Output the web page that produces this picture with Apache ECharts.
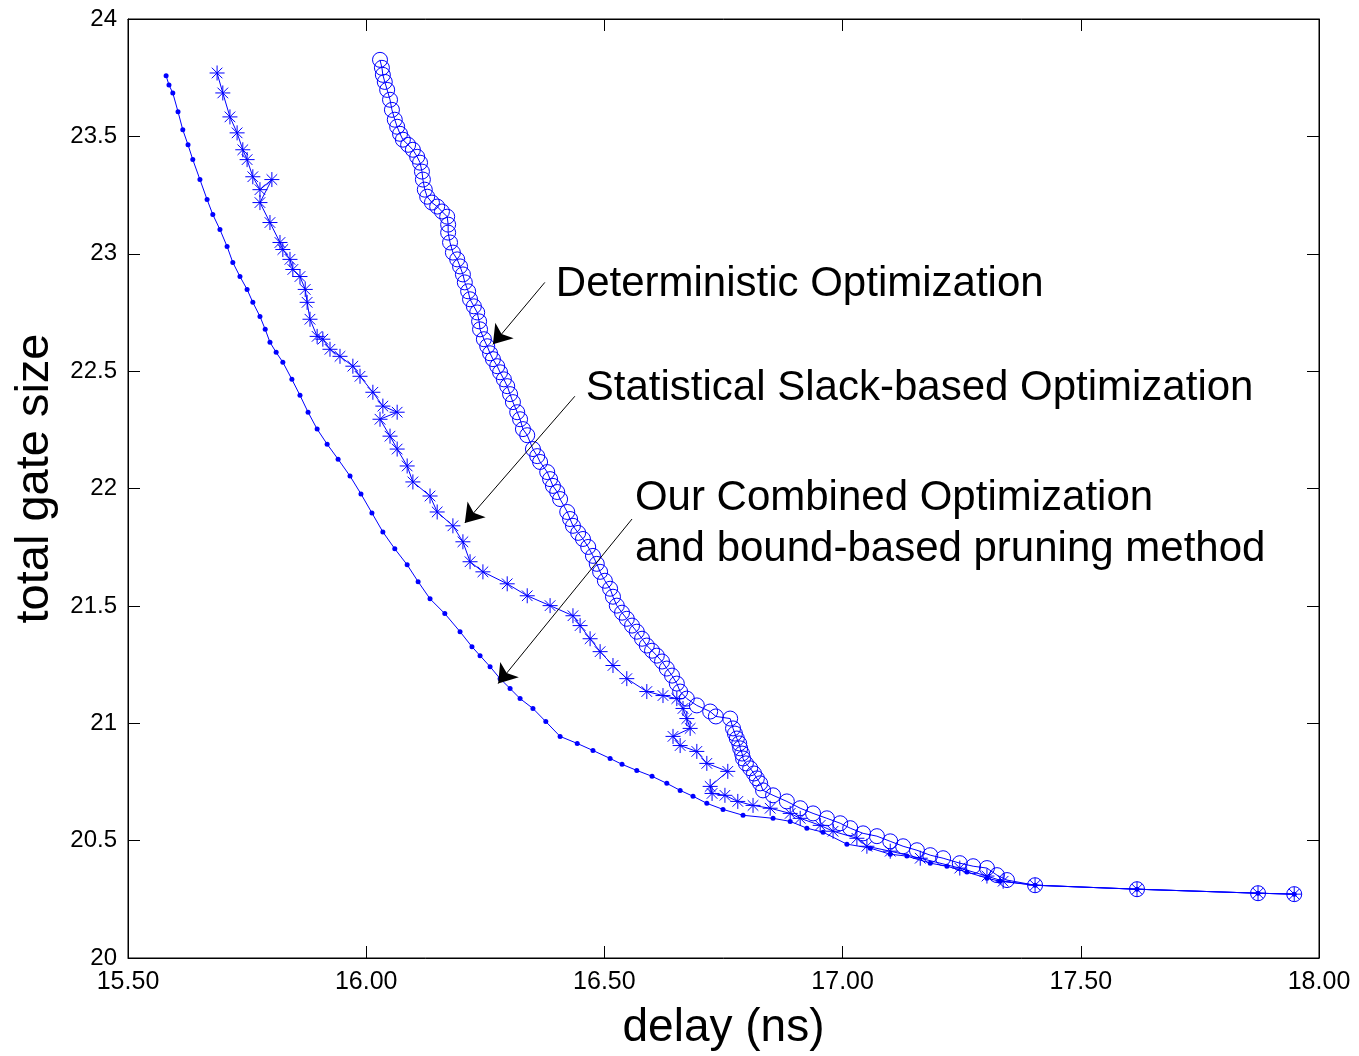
<!DOCTYPE html>
<html>
<head>
<meta charset="utf-8">
<title>delay vs total gate size</title>
<script src="https://cdn.jsdelivr.net/npm/echarts@6/dist/echarts.min.js"></script>
<style>
  html, body { margin: 0; padding: 0; background: #fff; }
  #main { width: 1359px; height: 1056px; }
</style>
</head>
<body>
<div id="main"></div>
<script>
// 三条曲线的数据 [delay(ns), total gate size]，从图上读出来的
const deterministic = [
  [16.029,23.826],[16.033,23.792],[16.035,23.762],[16.039,23.732],[16.044,23.698],[16.050,23.656],
  [16.054,23.613],[16.060,23.571],[16.065,23.541],[16.071,23.511],[16.077,23.486],[16.088,23.464],
  [16.098,23.443],[16.107,23.413],[16.113,23.388],[16.117,23.350],[16.119,23.316],[16.123,23.273],
  [16.128,23.243],[16.138,23.218],[16.149,23.201],[16.159,23.180],[16.170,23.158],[16.172,23.124],
  [16.172,23.090],[16.176,23.048],[16.182,23.005],[16.191,22.976],[16.197,22.946],[16.203,22.912],
  [16.207,22.878],[16.214,22.840],[16.218,22.806],[16.226,22.776],[16.233,22.750],[16.237,22.712],
  [16.239,22.678],[16.247,22.636],[16.254,22.606],[16.260,22.576],[16.266,22.551],[16.275,22.521],
  [16.281,22.495],[16.289,22.465],[16.296,22.436],[16.302,22.402],[16.308,22.368],[16.317,22.325],
  [16.323,22.295],[16.329,22.253],[16.338,22.227],[16.350,22.168],[16.359,22.138],[16.365,22.113],
  [16.380,22.070],[16.386,22.040],[16.392,22.011],[16.401,21.985],[16.407,21.955],[16.422,21.900],
  [16.428,21.870],[16.434,21.841],[16.445,21.811],[16.455,21.785],[16.466,21.751],[16.476,21.713],
  [16.484,21.679],[16.491,21.645],[16.501,21.607],[16.512,21.573],[16.518,21.539],[16.526,21.501],
  [16.537,21.471],[16.547,21.445],[16.558,21.416],[16.568,21.390],[16.579,21.360],[16.589,21.331],
  [16.600,21.309],[16.610,21.288],[16.621,21.263],[16.631,21.233],[16.642,21.203],[16.652,21.169],
  [16.659,21.135],[16.673,21.105],[16.694,21.076],[16.722,21.050],[16.734,21.029],[16.764,21.020],
  [16.770,20.978],[16.774,20.956],[16.778,20.935],[16.783,20.914],[16.785,20.893],[16.789,20.871],
  [16.791,20.850],[16.797,20.829],[16.806,20.808],[16.814,20.786],[16.820,20.765],[16.827,20.744],
  [16.833,20.714],[16.854,20.693],[16.883,20.667],[16.911,20.638],[16.938,20.616],[16.967,20.595],
  [16.995,20.574],[17.016,20.553],[17.043,20.531],[17.072,20.519],[17.100,20.497],[17.127,20.476],
  [17.156,20.459],[17.184,20.438],[17.211,20.425],[17.246,20.404],[17.274,20.391],[17.303,20.383],
  [17.324,20.353],[17.345,20.332],[17.404,20.310],[17.618,20.293],[17.872,20.276],[17.948,20.272]
];

const statistical = [
  [15.687,23.770],[15.699,23.685],[15.714,23.583],[15.729,23.515],[15.741,23.443],[15.750,23.401],
  [15.762,23.328],[15.777,23.273],[15.802,23.316],[15.777,23.218],[15.798,23.133],[15.819,23.048],
  [15.825,23.018],[15.840,22.976],[15.846,22.933],[15.861,22.903],[15.872,22.848],[15.876,22.793],
  [15.882,22.721],[15.897,22.648],[15.909,22.636],[15.924,22.593],[15.945,22.563],[15.972,22.521],
  [15.987,22.478],[16.014,22.410],[16.035,22.351],[16.065,22.325],[16.029,22.295],[16.050,22.223],
  [16.065,22.168],[16.086,22.096],[16.098,22.028],[16.134,21.968],[16.149,21.900],[16.182,21.841],
  [16.203,21.773],[16.218,21.688],[16.245,21.645],[16.296,21.594],[16.338,21.543],[16.386,21.501],
  [16.434,21.458],[16.449,21.416],[16.470,21.360],[16.491,21.305],[16.518,21.246],[16.547,21.190],
  [16.589,21.135],[16.623,21.118],[16.652,21.105],[16.665,21.063],[16.673,21.020],[16.680,20.978],
  [16.644,20.944],[16.659,20.905],[16.694,20.880],[16.715,20.829],[16.759,20.795],[16.722,20.731],
  [16.726,20.701],[16.753,20.693],[16.780,20.667],[16.812,20.650],[16.848,20.638],[16.890,20.616],
  [16.911,20.595],[16.953,20.565],[16.980,20.540],[17.030,20.510],[17.051,20.476],[17.100,20.455],
  [17.163,20.425],[17.246,20.383],[17.303,20.349],[17.337,20.327],[17.404,20.310],[17.618,20.293],
  [17.872,20.276],[17.948,20.272]
];

const combined = [
  [15.580,23.758],[15.586,23.719],[15.594,23.685],[15.605,23.605],[15.615,23.528],[15.626,23.464],
  [15.636,23.401],[15.651,23.316],[15.666,23.231],[15.678,23.167],[15.693,23.103],[15.708,23.031],
  [15.720,22.963],[15.735,22.903],[15.750,22.848],[15.762,22.793],[15.777,22.733],[15.788,22.678],
  [15.798,22.623],[15.811,22.580],[15.825,22.538],[15.844,22.465],[15.861,22.397],[15.878,22.325],
  [15.897,22.253],[15.918,22.189],[15.941,22.125],[15.966,22.053],[15.989,21.977],[16.012,21.896],
  [16.035,21.815],[16.060,21.743],[16.086,21.675],[16.109,21.603],[16.134,21.530],[16.165,21.467],
  [16.197,21.390],[16.222,21.326],[16.239,21.288],[16.260,21.241],[16.281,21.190],[16.302,21.148],
  [16.323,21.105],[16.350,21.063],[16.377,21.007],[16.407,20.944],[16.443,20.914],[16.476,20.884],
  [16.512,20.850],[16.537,20.825],[16.568,20.799],[16.600,20.774],[16.631,20.744],[16.659,20.714],
  [16.686,20.689],[16.715,20.659],[16.749,20.633],[16.791,20.608],[16.854,20.595],[16.890,20.582],
  [16.925,20.553],[16.959,20.536],[17.009,20.485],[17.058,20.468],[17.100,20.442],[17.135,20.434],
  [17.184,20.404],[17.219,20.391],[17.261,20.366],[17.303,20.340],[17.330,20.327],[17.404,20.310],
  [17.618,20.293],[17.872,20.276],[17.948,20.272]
];

// 坐标轴刻度
const xTicks = [15.5, 16.0, 16.5, 17.0, 17.5, 18.0];
const yTicks = [20, 20.5, 21, 21.5, 22, 22.5, 23, 23.5, 24];

// 注释文字和箭头（数据坐标）
const notes = [
  { text: 'Deterministic Optimization', at: [16.398, 22.870], from: [16.375, 22.878], to: [16.266, 22.614] },
  { text: 'Statistical Slack-based Optimization', at: [16.461, 22.428], from: [16.438, 22.393], to: [16.207, 21.853] },
  { text: 'Our Combined Optimization\nand bound-based pruning method', at: [16.564, 21.850], from: [16.558, 21.870], to: [16.277, 21.169] }
];

const FONT = '"Liberation Sans", Arial, Helvetica, sans-serif';
const BLUE = '#0000ff';
const STAR = 'path://M0,-10L0,10M-10,0L10,0M-7.07,-7.07L7.07,7.07M-7.07,7.07L7.07,-7.07';

const chartDom = document.getElementById('main');
const myChart = echarts.init(chartDom, null, { renderer: 'canvas' });

const tickAxis = (extra) => Object.assign({
  type: 'value',
  axisLine: { show: true, onZero: false, lineStyle: { color: '#000', width: 1 } },
  axisTick: { show: true, inside: true, length: 12, lineStyle: { color: '#000' } },
  splitLine: { show: false },
  axisLabel: { show: false }
}, extra);

const option = {
  animation: false,
  backgroundColor: '#fff',
  grid: { left: 128, right: 40, top: 19, bottom: 96, show: true, borderColor: '#000', borderWidth: 1 },
  xAxis: [
    tickAxis({
      min: xTicks[0], max: xTicks[xTicks.length - 1], interval: 0.5, position: 'bottom',
      axisLabel: { show: true, margin: 12, color: '#000', fontSize: 25, fontFamily: FONT,
        formatter: (v) => v.toFixed(2) },
      name: 'delay (ns)', nameLocation: 'middle', nameGap: 70,
      nameTextStyle: { fontSize: 46, fontFamily: FONT, color: '#000', verticalAlign: 'middle' }
    }),
    tickAxis({ min: xTicks[0], max: xTicks[xTicks.length - 1], interval: 0.5, position: 'top' })
  ],
  yAxis: [
    tickAxis({
      min: yTicks[0], max: yTicks[yTicks.length - 1], interval: 0.5, position: 'left',
      axisLabel: { show: true, margin: 11, color: '#000', fontSize: 24, fontFamily: FONT },
      name: 'total gate size', nameLocation: 'middle', nameGap: 93, nameRotate: 90,
      nameTextStyle: { fontSize: 47, fontFamily: FONT, color: '#000', verticalAlign: 'middle',
        padding: [0, 0, 0, 20] }
    }),
    tickAxis({ min: yTicks[0], max: yTicks[yTicks.length - 1], interval: 0.5, position: 'right' })
  ],
  series: [
    {
      name: 'Deterministic Optimization', type: 'line', data: deterministic,
      symbol: 'circle', symbolSize: 15, showAllSymbol: true, silent: true,
      lineStyle: { color: BLUE, width: 1 },
      itemStyle: { color: 'rgba(0,0,0,0)', borderColor: BLUE, borderWidth: 1 }
    },
    {
      name: 'Statistical Slack-based Optimization', type: 'line', data: statistical,
      symbol: STAR, symbolSize: 15, showAllSymbol: true, silent: true,
      lineStyle: { color: BLUE, width: 1 },
      itemStyle: { color: 'rgba(0,0,0,0)', borderColor: BLUE, borderWidth: 1 }
    },
    {
      name: 'Our Combined Optimization', type: 'line', data: combined,
      symbol: 'circle', symbolSize: 5, showAllSymbol: true, silent: true,
      lineStyle: { color: BLUE, width: 1 },
      itemStyle: { color: BLUE, borderWidth: 0 },
      markLine: {
        silent: true, symbol: ['none', 'arrow'], symbolSize: 18,
        lineStyle: { color: '#000', width: 1, type: 'solid' },
        itemStyle: { color: '#000' },
        label: { show: false },
        data: notes.map(n => [{ coord: n.from }, { coord: n.to }])
      },
      markPoint: {
        silent: true,
        data: notes.map(n => ({
          coord: n.at, symbol: 'circle', symbolSize: 0,
          label: { show: true, position: 'right', distance: 0, formatter: n.text,
            color: '#000', fontSize: 42, fontFamily: FONT, lineHeight: 51, align: 'left' }
        }))
      }
    }
  ]
};

option && myChart.setOption(option);
</script>
</body>
</html>
